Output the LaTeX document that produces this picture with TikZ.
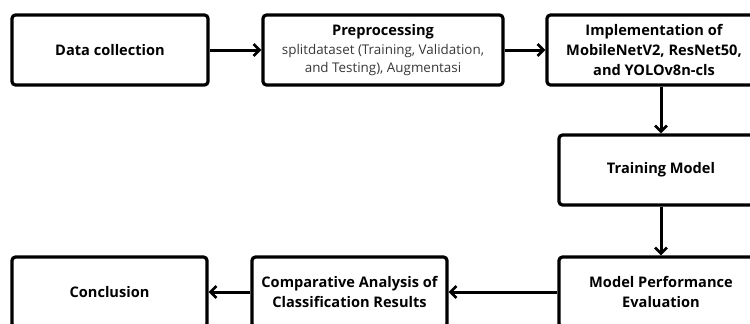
\documentclass[tikz,border=0pt]{standalone}
\usepackage{fontspec}
\setmainfont{Open Sans}
\usetikzlibrary{arrows.meta,positioning}
\definecolor{subgray}{gray}{0.22}
\newcommand{\subtxt}[1]{{\fontsize{13.4}{18}\selectfont\mdseries\color{subgray}#1}}
\begin{document}
\begin{tikzpicture}[x=1pt,y=-1pt,
  box/.style={draw=black,line width=3.2pt,rounded corners=3.5pt,fill=white,align=center,inner sep=0pt,font=\fontsize{14.6}{20}\selectfont\bfseries},
  arr/.style={line width=3pt,-{Straight Barb[length=6pt,width=12pt,line width=2.6pt]}}]
\useasboundingbox (0,0) rectangle (750,324);
\clip (0,0) rectangle (750,324);
\node[box,minimum width=196pt,minimum height=70pt] (dc) at (110,50) {Data collection};
\node[box,minimum width=240pt,minimum height=70pt] (pp) at (383,50) {Preprocessing\\[-1pt]\subtxt{splitdataset (Training, Validation,}\\[-2pt]\subtxt{and Testing), Augmentasi}};
\node[box,minimum width=214pt,minimum height=70pt] (im) at (654,50) {Implementation of\\MobileNetV2, ResNet50,\\and YOLOv8n-cls};
\node[box,minimum width=204pt,minimum height=70pt] (tm) at (661,170) {Training Model};
\node[box,minimum width=204pt,minimum height=70pt] (mp) at (661,292) {Model Performance\\Evaluation};
\node[box,minimum width=195pt,minimum height=70pt] (ca) at (349.5,292) {Comparative Analysis of\\Classification Results};
\node[box,minimum width=195pt,minimum height=70pt] (co) at (109.5,292) {Conclusion};
\draw[arr] (dc.east) -- (pp.west);
\draw[arr] (pp.east) -- (im.west);
\draw[arr] (im.south -| tm.north) -- (tm.north);
\draw[arr] (tm.south) -- (mp.north);
\draw[arr] (mp.west) -- (ca.east);
\draw[arr] (ca.west) -- (co.east);
\end{tikzpicture}
\end{document}
